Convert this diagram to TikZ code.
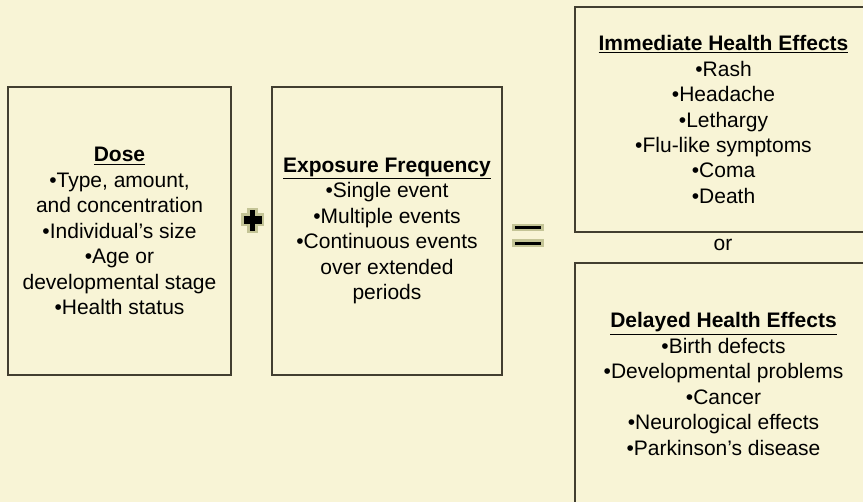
\documentclass[tikz,border=0pt]{standalone}
\usepackage{fontspec}
\setmainfont{Liberation Sans}
\definecolor{bgcol}{RGB}{248,244,214}
\definecolor{edgecol}{RGB}{66,62,48}
\definecolor{glowcol}{RGB}{196,196,150}
\begin{document}
\begin{tikzpicture}[x=0.75pt,y=-0.75pt,
  box/.style={draw=edgecol, line width=1.5pt, fill=bgcol, align=center, inner sep=0pt,
    font=\fontsize{15.75pt}{19.1pt}\selectfont},
  frame/.style={draw=edgecol, line width=1.5pt, fill=bgcol},
  lbl/.style={align=center, inner sep=0pt, font=\fontsize{15.75pt}{19.1pt}\selectfont},
  sym/.style={fill=black, draw=glowcol, line width=1.9pt, line join=miter}]
\fill[bgcol] (0,0) rectangle (863,502);
\useasboundingbox (0,0) rectangle (863,502);
\node[box, minimum width=167.25pt, minimum height=216pt] (dose) at (119.5,231)
  {\textbf{\underline{Dose}}\\•Type, amount,\\and concentration\\•Individual’s size\\•Age or\\developmental stage\\•Health status};
\node[box, minimum width=172.5pt, minimum height=216pt] (expo) at (387,231)
  {\textbf{\underline{Exposure Frequency}}\\•Single event\\•Multiple events\\•Continuous events\\over extended\\periods};
\path[frame] (575,7) rectangle (900,232);
\node[lbl] (imm) at (723.5,119.5)
  {\textbf{\underline{Immediate Health Effects}}\\•Rash\\•Headache\\•Lethargy\\•Flu-like symptoms\\•Coma\\•Death};
\path[frame] (575,263) rectangle (900,520);
\node[lbl] (del) at (723.5,384)
  {\textbf{\underline{Delayed Health Effects}}\\•Birth defects\\•Developmental problems\\•Cancer\\•Neurological effects\\•Parkinson’s disease};
\node[lbl] (or) at (723,245) {or};
% plus sign
\filldraw[sym] (248.5,209) -- (256.5,209) -- (256.5,214.5) -- (263,214.5) -- (263,225)
  -- (256.5,225) -- (256.5,232) -- (248.5,232) -- (248.5,225) -- (242.5,225)
  -- (242.5,214.5) -- (248.5,214.5) -- cycle;
% equals sign
\filldraw[sym] (513.3,224.8) rectangle (542.7,230.2);
\filldraw[sym] (513.3,240.5) rectangle (542.7,245.9);
\end{tikzpicture}
\end{document}
